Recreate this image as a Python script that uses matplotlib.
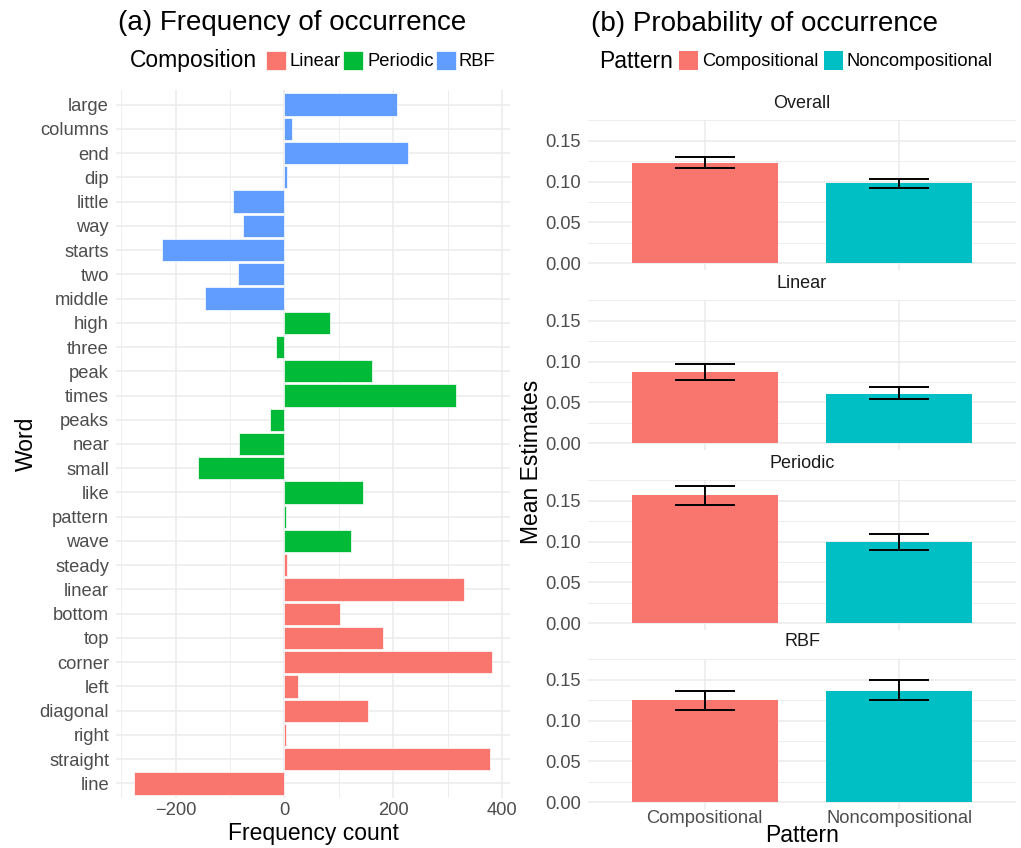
import matplotlib.pyplot as plt
import numpy as np
from matplotlib.patches import Rectangle

plt.rcParams['font.family'] = ['Liberation Sans', 'DejaVu Sans']

# word frequency counts, listed top to bottom
words = ["large", "columns", "end", "dip", "little", "way", "starts", "two", "middle",
         "high", "three", "peak", "times", "peaks", "near", "small", "like", "pattern", "wave",
         "steady", "linear", "bottom", "top", "corner", "left", "diagonal", "right", "straight", "line"]
counts = [207, 13, 228, 4, -94, -77, -225, -85, -146,
          84, -15, 161, 316, -27, -84, -159, 144, 2, 123,
          4, 330, 103, 182, 382, 25, 154, 2, 378, -277]
composition = ["RBF"] * 9 + ["Periodic"] * 10 + ["Linear"] * 10
comp_names = ["Linear", "Periodic", "RBF"]
comp_colors = ["#F8766D", "#00BA38", "#619CFF"]

# mean estimates with interval bounds, one entry per facet
facets = ["Overall", "Linear", "Periodic", "RBF"]
patterns = ["Compositional", "Noncompositional"]
pattern_colors = ["#F8766D", "#00BFC4"]
comp_mean = [0.1230, 0.0866, 0.1567, 0.1249]
comp_lo = [0.1168, 0.0773, 0.1447, 0.1131]
comp_hi = [0.1295, 0.0970, 0.1682, 0.1365]
noncomp_mean = [0.0985, 0.0608, 0.0994, 0.1362]
noncomp_lo = [0.0923, 0.0536, 0.0895, 0.1255]
noncomp_hi = [0.1037, 0.0683, 0.1096, 0.1491]

W, H = 1021, 848
GRID = "#EBEBEB"
TICK = "#4D4D4D"

fig = plt.figure(figsize=(W / 100, H / 100), dpi=100)


def px_axes(x0, y0, x1, y1):
    return fig.add_axes([x0 / W, 1 - y1 / H, (x1 - x0) / W, (y1 - y0) / H])


def px_text(x, y, s, **kw):
    return fig.text(x / W, 1 - y / H, s, **kw)


def clean(ax):
    for sp in ax.spines.values():
        sp.set_visible(False)
    ax.tick_params(length=0, labelsize=13.2, labelcolor=TICK)
    ax.set_axisbelow(True)


# ---- (a) frequency bars ----
ax = px_axes(116, 90, 510, 798)
clean(ax)
y = np.arange(len(words))
color_of = dict(zip(comp_names, comp_colors))
ax.barh(y, counts, height=0.92, color=[color_of[c] for c in composition],
        edgecolor="white", linewidth=0.5, zorder=2)
ax.set_yticks(y, words)
ax.set_ylim(len(words) - 0.4, -0.6)
ax.set_xlim(-310, 415)
ax.set_xticks([-200, 0, 200, 400])
ax.set_xticks([-300, -100, 100, 300], minor=True)
ax.tick_params(which="minor", length=0)
ax.grid(True, which="major", color=GRID, linewidth=1.1)
ax.grid(True, which="minor", axis="x", color=GRID, linewidth=0.6)
ax.tick_params(axis="y", pad=5)
ax.tick_params(axis="x", pad=3)
ax.set_xlabel("Frequency count", fontsize=16.5, labelpad=2)
ax.set_ylabel("Word", fontsize=16.5, labelpad=1)

px_text(292, 23, "(a) Frequency of occurrence", fontsize=20, ha="center", va="center")
px_text(130, 61, "Composition", fontsize=16.5, ha="left", va="center")
for name, col, bx, tx in zip(comp_names, comp_colors, [266, 343, 436], [289, 367, 458]):
    fig.patches.append(Rectangle((bx / W, 1 - 70 / H), 20 / W, 19 / H, transform=fig.transFigure,
                                 facecolor=col, edgecolor="white", linewidth=0.5))
    px_text(tx, 61, name, fontsize=13.2, ha="left", va="center")

# ---- (b) mean estimates by facet ----
panel_tops = [120, 300, 480, 659]
strip_y = [104, 283, 463, 641]
x = np.arange(len(patterns))
for i, facet in enumerate(facets):
    bx = px_axes(588, panel_tops[i], 1016, panel_tops[i] + 150)
    clean(bx)
    means = [comp_mean[i], noncomp_mean[i]]
    lo = [comp_lo[i], noncomp_lo[i]]
    hi = [comp_hi[i], noncomp_hi[i]]
    bx.bar(x, means, width=0.75, color=pattern_colors, zorder=2)
    yerr = [np.subtract(means, lo), np.subtract(hi, means)]
    bx.errorbar(x, means, yerr=yerr, fmt="none", ecolor="black", elinewidth=1.4,
                capsize=21.7, capthick=1.4, zorder=3)
    bx.set_xlim(-0.6, 1.6)
    bx.set_ylim(-0.0084, 0.1754)
    bx.set_yticks([0, 0.05, 0.10, 0.15], ["0.00", "0.05", "0.10", "0.15"])
    bx.set_yticks([0.025, 0.075, 0.125, 0.175], minor=True)
    bx.tick_params(which="minor", length=0)
    bx.set_xticks(x, patterns)
    bx.grid(True, which="major", color=GRID, linewidth=1.1)
    bx.grid(True, which="minor", axis="y", color=GRID, linewidth=0.6)
    bx.tick_params(axis="y", pad=5)
    bx.tick_params(axis="x", pad=1)
    if i < len(facets) - 1:
        bx.tick_params(axis="x", labelbottom=False)
    px_text(802, strip_y[i], facet, fontsize=13, color="#1A1A1A", ha="center", va="center")

px_text(802, 836, "Pattern", fontsize=16.5, ha="center", va="center")
px_text(531, 462, "Mean Estimates", fontsize=16.5, ha="center", va="center", rotation=90)

px_text(764, 24, "(b) Probability of occurrence", fontsize=20, ha="center", va="center")
px_text(599, 61, "Pattern", fontsize=16.5, ha="left", va="center")
for name, col, bx0, tx in zip(patterns, pattern_colors, [679, 824], [702, 846]):
    fig.patches.append(Rectangle((bx0 / W, 1 - 70 / H), 19 / W, 19 / H, transform=fig.transFigure,
                                 facecolor=col, edgecolor="none"))
    px_text(tx, 61, name, fontsize=13.2, ha="left", va="center")

fig.savefig("out.png", dpi=100, facecolor="white")
